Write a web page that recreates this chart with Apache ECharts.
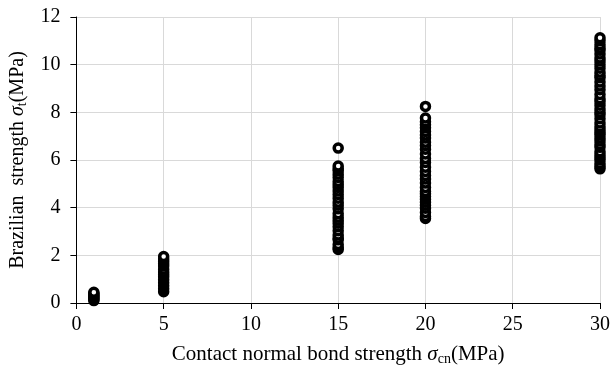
<!DOCTYPE html>
<html>
<head>
<meta charset="utf-8">
<script src="https://cdn.jsdelivr.net/npm/echarts@6/dist/echarts.min.js"></script>
<style>
  html, body { margin: 0; padding: 0; background: #fff; }
  #chart { width: 613px; height: 372px; }
</style>
</head>
<body>
<div id="chart"></div>
<script>
// bond strength groups (x) and Brazilian strength (y)
const xTicks = [0, 5, 10, 15, 20, 25, 30];
const yTicks = [0, 2, 4, 6, 8, 10, 12];

const strength1 = [0.1, 0.15, 0.2, 0.25, 0.3, 0.35, 0.4, 0.45];
const strength5 = [0.47, 0.6, 0.72, 0.85, 0.98, 1.1, 1.2, 1.3, 1.42, 1.55, 1.65, 1.75, 1.85, 1.95];
const strength15 = [2.25, 2.32, 2.45, 2.65, 2.72, 2.85, 3.03, 3.2, 3.35, 3.47, 3.6, 3.75, 3.95, 4.1, 4.23,
    4.4, 4.55, 4.7, 4.85, 4.97, 5.1, 5.27, 5.4, 5.55, 5.63, 5.75, 6.5];
const strength20 = [3.55, 3.63, 3.8, 3.98, 4.1, 4.23, 4.35, 4.47, 4.58, 4.68, 4.85, 5.03, 5.2, 5.35, 5.52,
    5.7, 5.9, 6.06, 6.25, 6.45, 6.61, 6.75, 6.92, 7.05, 7.2, 7.35, 7.48, 7.6, 7.76, 8.25];
const strength30 = [5.63, 5.73, 5.85, 6.0, 6.1, 6.22, 6.35, 6.53, 6.65, 6.8, 6.92, 7.06, 7.15, 7.27, 7.4,
    7.55, 7.73, 7.9, 8.0, 8.14, 8.3, 8.45, 8.57, 8.75, 8.95, 9.1, 9.27, 9.45, 9.55, 9.68, 9.85, 10.0,
    10.15, 10.28, 10.45, 10.6, 10.7, 10.84, 11.0, 11.13];

const groups = [[1, strength1], [5, strength5], [15, strength15], [20, strength20], [30, strength30]];
let points = [];
groups.forEach(g => {
    g[1].forEach(v => points.push([g[0], v]));
});

let chart = echarts.init(document.getElementById('chart'), null, { renderer: 'canvas' });
const font = 'Liberation Serif';
function nameRich(size) {
    return {
        n: { fontFamily: font, fontSize: size, color: '#000' },
        s: { fontFamily: font, fontSize: size, fontStyle: 'italic', color: '#000' },
        sub: { fontFamily: font, fontSize: 14, color: '#000', padding: [9, 0, 0, 0] }
    };
}

chart.setOption({
    animation: false,
    backgroundColor: '#fff',
    grid: { left: 76, right: 10, top: 17, bottom: 69 },
    xAxis: {
        type: 'value',
        min: xTicks[0],
        max: xTicks[xTicks.length - 1],
        interval: 5,
        name: '{n|Contact normal bond strength }{s|σ}{sub|cn}{n|(MPa)}',
        nameLocation: 'middle',
        nameGap: 40,
        nameTextStyle: { rich: nameRich(21) },
        axisLine: { show: true, lineStyle: { color: '#000', width: 1 } },
        axisTick: { show: true, length: 6, lineStyle: { color: '#000' } },
        axisLabel: { fontFamily: font, fontSize: 20, color: '#000', margin: 12 },
        splitLine: { show: true, lineStyle: { color: '#d9d9d9', width: 1 } }
    },
    yAxis: {
        type: 'value',
        min: yTicks[0],
        max: yTicks[yTicks.length - 1],
        interval: 2,
        name: '{n|Brazilian  strength }{s|σ}{sub|t}{n|(MPa)}',
        nameLocation: 'middle',
        nameGap: 44,
        nameTextStyle: { rich: nameRich(20) },
        axisLine: { show: true, lineStyle: { color: '#000', width: 1 } },
        axisTick: { show: true, length: 6, lineStyle: { color: '#000' } },
        axisLabel: { fontFamily: font, fontSize: 20, color: '#000', margin: 16 },
        splitLine: { show: true, lineStyle: { color: '#d9d9d9', width: 1 } }
    },
    series: [{
        type: 'scatter',
        data: points,
        symbol: 'circle',
        symbolSize: 8,
        itemStyle: { color: '#fff', borderColor: '#000', borderWidth: 3.5, opacity: 1 }
    }]
});
</script>
</body>
</html>
